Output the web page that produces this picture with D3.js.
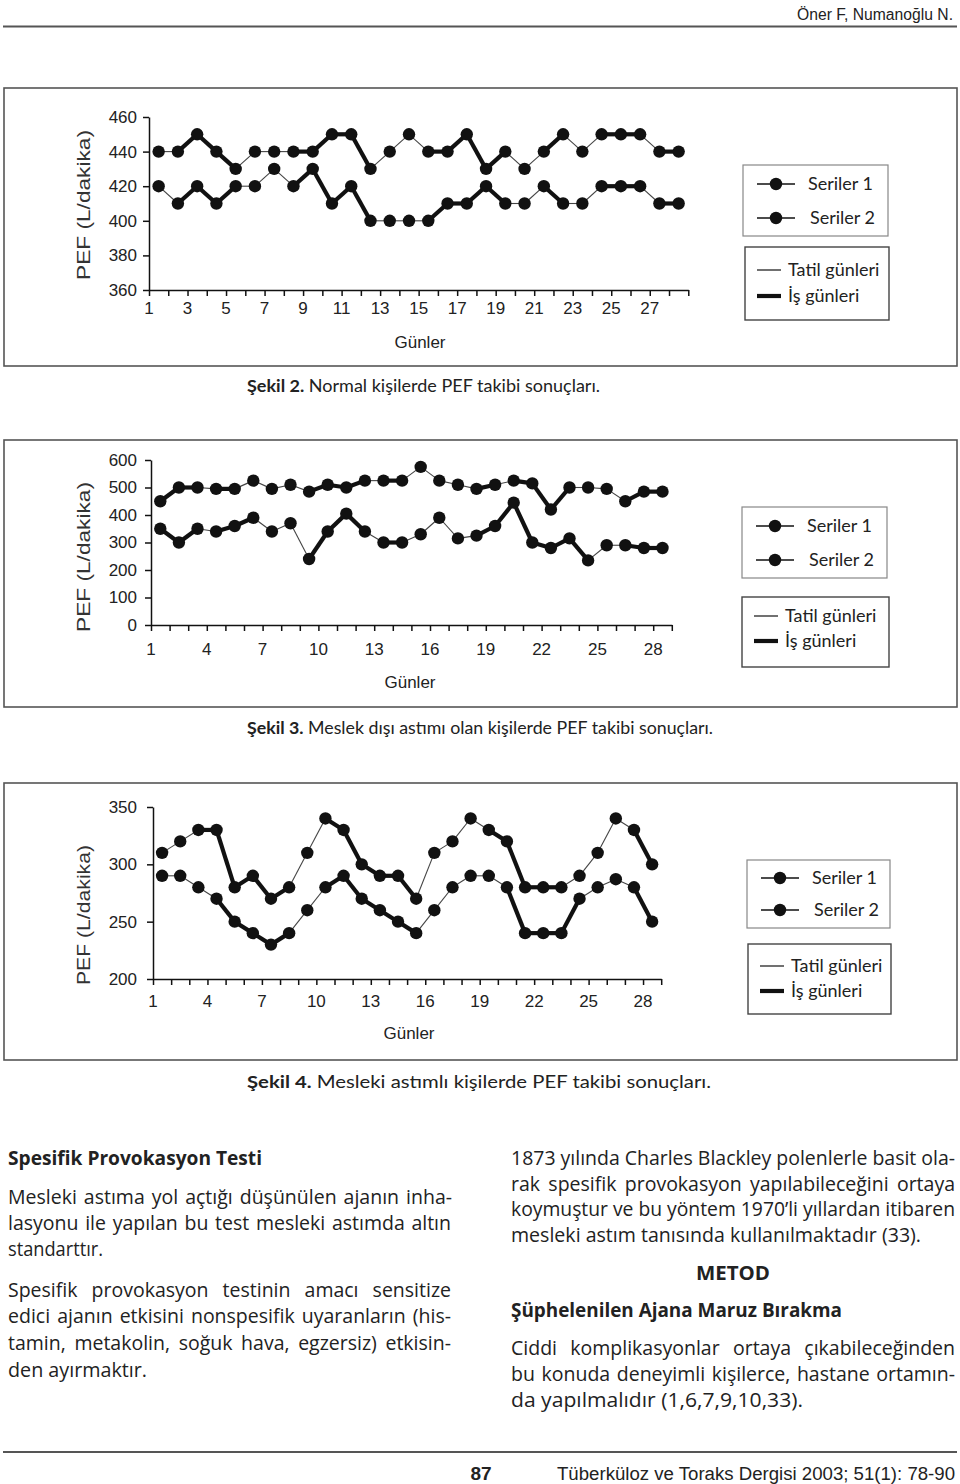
<!DOCTYPE html>
<html><head><meta charset="utf-8">
<script src="https://cdn.jsdelivr.net/npm/d3@7"></script>
<style>body{margin:0;background:#fff}svg{display:block}</style>
</head><body>
<svg id="page" width="960" height="1484"></svg>
<script>
// ---------------- DATA ----------------
const days = d3.range(1, 29);
const legendSeries = ["Seriler 1", "Seriler 2"];
const legendDays = ["Tatil günleri", "İş günleri"];

// Şekil 2 – Normal kişiler
const fig2Seriler1 = [440,440,450,440,430,440,440,440,440,450,450,430,440,450,440,440,450,430,440,430,440,450,440,450,450,450,440,440];
const fig2Seriler2 = [420,410,420,410,420,420,430,420,430,410,420,400,400,400,400,410,410,420,410,410,420,410,410,420,420,420,410,410];
// segment i joins day i and day i+1 : 1 = iş günü (thick), 0 = tatil (thin)
const fig2Work1 = [0,1,1,1,0,0,0,1,1,1,1,0,0,0,1,1,1,1,0,0,1,0,0,1,1,0,1];
const fig2Work2 = [0,1,1,1,0,0,0,1,1,1,1,0,0,0,1,1,1,1,0,0,1,0,0,1,1,0,1];
const fig2YTicks = [360,380,400,420,440,460];
const fig2XLabels = [1,3,5,7,9,11,13,15,17,19,21,23,25,27];

// Şekil 3 – Meslek dışı astım
const fig3Seriler1 = [450,500,500,495,495,525,495,510,485,510,500,525,525,525,575,525,510,495,510,525,515,420,500,500,495,450,485,485];
const fig3Seriler2 = [350,300,350,340,360,390,340,370,240,340,405,340,300,300,330,390,315,325,360,445,300,280,315,235,290,290,280,280];
const fig3Work1 = [1,1,0,1,0,0,0,0,1,1,1,0,1,0,0,0,0,1,0,1,1,1,0,0,0,1,1];
const fig3Work2 = [1,1,0,1,1,0,0,0,1,1,1,0,1,0,0,0,0,1,1,1,1,1,1,0,0,1,1];
const fig3YTicks = [0,100,200,300,400,500,600];
const fig3XLabels = [1,4,7,10,13,16,19,22,25,28];

// Şekil 4 – Mesleki astım
const fig4Seriler1 = [310,320,330,330,280,290,270,280,310,340,330,300,290,290,270,310,320,340,330,320,280,280,280,290,310,340,330,300];
const fig4Seriler2 = [290,290,280,270,250,240,230,240,260,280,290,270,260,250,240,260,280,290,290,280,240,240,240,270,280,287,280,250];
const fig4Work1 = [0,0,1,1,1,1,1,0,0,1,1,1,1,1,0,0,0,0,1,1,1,1,0,0,0,0,1];
const fig4Work2 = [0,0,0,1,1,1,1,0,0,1,1,1,1,1,0,0,0,0,0,1,1,1,1,0,0,0,1];
const fig4YTicks = [200,250,300,350];
const fig4XLabels = [1,4,7,10,13,16,19,22,25,28];

// ---------------- LAYOUT ----------------
const svg = d3.select("#page");
const FONT = "'Liberation Sans', Arial, sans-serif";
const TFONT = "Lato, 'Open Sans', sans-serif";
const BFONT = "'Open Sans', Lato, sans-serif";
const NARROW = "'Liberation Sans Narrow', 'Liberation Sans', Arial, sans-serif";

const charts = [
  {s1: fig2Seriler1, s2: fig2Seriler2, w1: fig2Work1, w2: fig2Work2, yTicks: fig2YTicks, xLabels: fig2XLabels,
   box: [4, 88, 953, 278], x0: 149, bw: 19.26, yDom: [360, 460], yRng: [290, 117],
   titleY: 205, titleLen: 150, xLabY: 314, gunX: 420, gunY: 348,
   leg: {b1: [743,165,145,71], r1: [184,218], b2: [745,247,144,73], r2: [270,296]},
   capY: 392, capBold: "Şekil 2.", capRest: " Normal kişilerde PEF takibi sonuçları.", capLen: 353},
  {s1: fig3Seriler1, s2: fig3Seriler2, w1: fig3Work1, w2: fig3Work2, yTicks: fig3YTicks, xLabels: fig3XLabels,
   box: [4, 440, 953, 267], x0: 151, bw: 18.6, yDom: [0, 600], yRng: [625, 460],
   titleY: 557, titleLen: 150, xLabY: 655, gunX: 410, gunY: 688,
   leg: {b1: [742,507,145,71], r1: [526,560], b2: [742,597,147,70], r2: [616,641]},
   capY: 734, capBold: "Şekil 3.", capRest: " Meslek dışı astımı olan kişilerde PEF takibi sonuçları.", capLen: 466},
  {s1: fig4Seriler1, s2: fig4Seriler2, w1: fig4Work1, w2: fig4Work2, yTicks: fig4YTicks, xLabels: fig4XLabels,
   box: [4, 783, 953, 277], x0: 153, bw: 18.15, yDom: [200, 350], yRng: [979, 807],
   titleY: 915, titleLen: 140, xLabY: 1007, gunX: 409, gunY: 1039,
   leg: {b1: [747,860,143,68], r1: [878,910], b2: [748,944,143,70], r2: [966,991]},
   capY: 1088, capBold: "Şekil 4.", capRest: " Mesleki astımlı kişilerde PEF takibi sonuçları.", capLen: 464}
];

charts.forEach(c => {
  const g = svg.append("g");
  g.append("rect").attr("x", c.box[0]).attr("y", c.box[1]).attr("width", c.box[2]).attr("height", c.box[3])
    .attr("fill", "none").attr("stroke", "#555").attr("stroke-width", 1.6);

  const x = d3.scaleLinear().domain([1, 29]).range([c.x0, c.x0 + 28 * c.bw]);
  const y = d3.scaleLinear().domain(c.yDom).range(c.yRng);
  const px = d => x(d + 0.5);

  const xAxis = d3.axisBottom(x).tickValues(d3.range(1, 30)).tickSize(6).tickSizeOuter(0).tickFormat("");
  const gx = g.append("g").attr("transform", `translate(0,${c.yRng[0]})`).call(xAxis);
  const yAxis = d3.axisLeft(y).tickValues(c.yTicks).tickSize(6).tickSizeOuter(0).tickFormat("");
  const gy = g.append("g").attr("transform", `translate(${c.x0},0)`).call(yAxis);
  [gx, gy].forEach(a => { a.selectAll("path,line").attr("stroke", "#111").attr("stroke-width", 1.5); });

  g.selectAll(".yl").data(c.yTicks).join("text")
    .attr("x", 137).attr("y", d => y(d)).attr("dy", "0.35em").attr("text-anchor", "end")
    .attr("font-family", FONT).attr("font-size", 17).attr("fill", "#222").text(d => d);
  g.selectAll(".xl").data(c.xLabels).join("text")
    .attr("x", d => x(d)).attr("y", c.xLabY).attr("text-anchor", "middle")
    .attr("font-family", FONT).attr("font-size", 17).attr("fill", "#222").text(d => d);

  g.append("text").attr("transform", `translate(90,${c.titleY}) rotate(-90)`).attr("text-anchor", "middle")
    .attr("font-family", FONT).attr("font-size", 18).attr("fill", "#333")
    .attr("textLength", c.titleLen).attr("lengthAdjust", "spacingAndGlyphs").text("PEF (L/dakika)");
  g.append("text").attr("x", c.gunX).attr("y", c.gunY).attr("text-anchor", "middle")
    .attr("font-family", FONT).attr("font-size", 17).attr("fill", "#222").text("Günler");

  [[c.s1, c.w1], [c.s2, c.w2]].forEach(([vals, work]) => {
    const segs = work.map((w, i) => ({a: i, b: i + 1, w}));
    g.selectAll(null).data(segs).join("line")
      .attr("x1", d => px(days[d.a])).attr("y1", d => y(vals[d.a]))
      .attr("x2", d => px(days[d.b])).attr("y2", d => y(vals[d.b]))
      .attr("stroke", d => d.w ? "#111" : "#444").attr("stroke-width", d => d.w ? 4.2 : 1.1);
    g.selectAll(null).data(vals).join("circle")
      .attr("cx", (d, i) => px(days[i])).attr("cy", d => y(d)).attr("r", 6.2).attr("fill", "#111");
  });

  const L = c.leg;
  g.append("rect").attr("x", L.b1[0]).attr("y", L.b1[1]).attr("width", L.b1[2]).attr("height", L.b1[3])
    .attr("fill", "none").attr("stroke", "#888").attr("stroke-width", 1.2);
  g.append("rect").attr("x", L.b2[0]).attr("y", L.b2[1]).attr("width", L.b2[2]).attr("height", L.b2[3])
    .attr("fill", "none").attr("stroke", "#444").attr("stroke-width", 1.4);
  legendSeries.forEach((name, i) => {
    const ry = L.r1[i];
    g.append("line").attr("x1", L.b1[0] + 14).attr("x2", L.b1[0] + 52).attr("y1", ry).attr("y2", ry)
      .attr("stroke", "#111").attr("stroke-width", 1.3);
    g.append("circle").attr("cx", L.b1[0] + 33).attr("cy", ry).attr("r", 6.2).attr("fill", "#111");
    g.append("text").attr("x", L.b1[0] + 65 + i * 2).attr("y", ry).attr("dy", "0.35em")
      .attr("font-family", TFONT).attr("font-size", 18).attr("fill", "#222").text(name);
  });
  legendDays.forEach((name, i) => {
    const ry = L.r2[i];
    g.append("line").attr("x1", L.b2[0] + 12).attr("x2", L.b2[0] + 36).attr("y1", ry).attr("y2", ry)
      .attr("stroke", "#111").attr("stroke-width", i ? 4.2 : 1.2);
    g.append("text").attr("x", L.b2[0] + 43).attr("y", ry).attr("dy", "0.35em")
      .attr("font-family", TFONT).attr("font-size", 18).attr("fill", "#222").text(name);
  });

  const cap = svg.append("text").attr("x", 247).attr("y", c.capY).attr("font-family", TFONT)
    .attr("font-size", 17.5).attr("fill", "#222").attr("textLength", c.capLen).attr("lengthAdjust", "spacingAndGlyphs");
  cap.append("tspan").attr("font-weight", "bold").text(c.capBold);
  cap.append("tspan").text(c.capRest);
});

// ---------------- HEADER / FOOTER ----------------
svg.append("text").attr("x", 953).attr("y", 20).attr("text-anchor", "end").attr("font-family", NARROW)
  .attr("font-size", 16).attr("fill", "#222").attr("textLength", 156).attr("lengthAdjust", "spacingAndGlyphs")
  .text("Öner F, Numanoğlu N.");
svg.append("line").attr("x1", 3).attr("x2", 957).attr("y1", 26.5).attr("y2", 26.5).attr("stroke", "#555").attr("stroke-width", 2);
svg.append("line").attr("x1", 3).attr("x2", 957).attr("y1", 1452).attr("y2", 1452).attr("stroke", "#555").attr("stroke-width", 2);
svg.append("text").attr("x", 481).attr("y", 1480).attr("text-anchor", "middle").attr("font-family", NARROW)
  .attr("font-size", 19).attr("font-weight", "bold").attr("fill", "#222").text("87");
svg.append("text").attr("x", 557).attr("y", 1480).attr("font-family", NARROW)
  .attr("font-size", 18).attr("fill", "#222").attr("textLength", 398).attr("lengthAdjust", "spacingAndGlyphs")
  .text("Tüberküloz ve Toraks Dergisi 2003; 51(1): 78-90");

// ---------------- BODY TEXT ----------------
// j = justified line (stretch word spaces); otherwise fit to measured width
const bodyLines = [
  {x: 8, y: 1165, t: "Spesifik Provokasyon Testi", w: 254, b: true},
  {x: 8, y: 1204, t: "Mesleki astıma yol açtığı düşünülen ajanın inha-", w: 444, j: true},
  {x: 8, y: 1230, t: "lasyonu ile yapılan bu test mesleki astımda altın", w: 443, j: true},
  {x: 8, y: 1256, t: "standarttır.", w: 95},
  {x: 8, y: 1297, t: "Spesifik provokasyon testinin amacı sensitize", w: 443, j: true},
  {x: 8, y: 1323, t: "edici ajanın etkisini nonspesifik uyaranların (his-", w: 443, j: true},
  {x: 8, y: 1350, t: "tamin, metakolin, soğuk hava, egzersiz) etkisin-", w: 443, j: true},
  {x: 8, y: 1377, t: "den ayırmaktır.", w: 139},
  {x: 511, y: 1165, t: "1873 yılında Charles Blackley polenlerle basit ola-", w: 444, j: true},
  {x: 511, y: 1191, t: "rak spesifik provokasyon yapılabileceğini ortaya", w: 444, j: true},
  {x: 511, y: 1216, t: "koymuştur ve bu yöntem 1970’li yıllardan itibaren", w: 444, j: true},
  {x: 511, y: 1242, t: "mesleki astım tanısında kullanılmaktadır (33).", w: 410},
  {x: 696, y: 1280, t: "METOD", w: 74, b: true},
  {x: 511, y: 1317, t: "Şüphelenilen Ajana Maruz Bırakma", w: 331, b: true},
  {x: 511, y: 1355, t: "Ciddi komplikasyonlar ortaya çıkabileceğinden", w: 444, j: true},
  {x: 511, y: 1381, t: "bu konuda deneyimli kişilerce, hastane ortamın-", w: 444, j: true},
  {x: 511, y: 1407, t: "da yapılmalıdır (1,6,7,9,10,33).", w: 292}
];
svg.selectAll(".body").data(bodyLines).join("text")
  .attr("x", d => d.x).attr("y", d => d.y).attr("font-family", BFONT).attr("font-size", 19.5)
  .attr("font-weight", d => d.b ? "bold" : "normal").attr("fill", "#222")
  .text(d => d.t)
  .each(function(d) {
    const natural = this.getComputedTextLength();
    const spaces = (d.t.match(/ /g) || []).length;
    if (!d.j || natural > d.w || spaces === 0) {
      d3.select(this).attr("textLength", d.w).attr("lengthAdjust", "spacingAndGlyphs");
    } else {
      d3.select(this).attr("word-spacing", (d.w - natural) / spaces);
    }
  });
</script>
</body></html>
